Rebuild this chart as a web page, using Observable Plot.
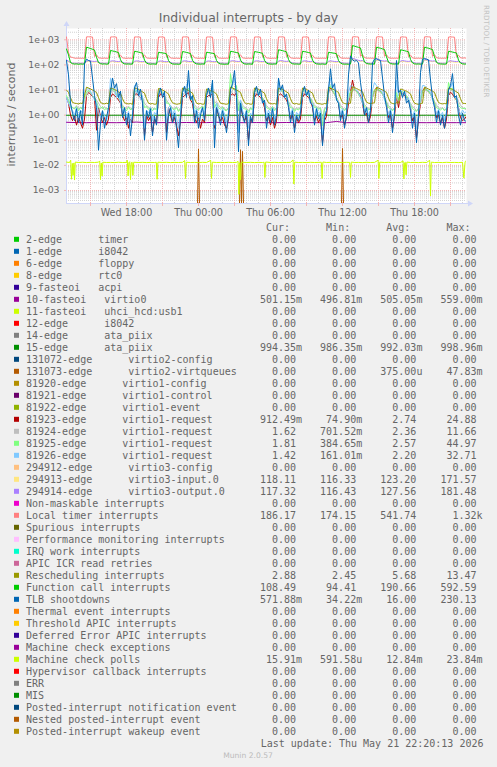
<!DOCTYPE html>
<html><head><meta charset="utf-8">
<script src="https://cdn.jsdelivr.net/npm/d3@7"></script>
<script src="https://cdn.jsdelivr.net/npm/@observablehq/plot@0.6"></script>
<style>
html,body{margin:0;padding:0;background:#F0F0F0;}
#wrap{position:relative;width:497px;height:767px;background:#F0F0F0;overflow:hidden;}
#wrap svg{position:absolute;left:0;top:0;}
</style></head><body><div id="wrap"></div>
<script>
// ---------- time span (Wed 13:00 -> Thu 22:20, 10-minute samples) ----------
const T0 = Date.UTC(2026, 4, 20, 13, 0);
const T1 = Date.UTC(2026, 4, 21, 22, 20);

// ---------- axis ticks ----------
const yTicks = [1e-3, 1e-2, 1e-1, 1, 10, 100, 1000];
const yTickLabels = ["1e-03", "1e-02", "1e-01", "1e+00", "1e+01", "1e+02", "1e+03"];
const xTickTimes = [Date.UTC(2026,4,20,18), Date.UTC(2026,4,21,0), Date.UTC(2026,4,21,6), Date.UTC(2026,4,21,12), Date.UTC(2026,4,21,18)];
const xTickLabels = ["Wed 18:00", "Thu 00:00", "Thu 06:00", "Thu 12:00", "Thu 18:00"];

// ---------- series values (10-min samples unless noted) ----------
const virtio0 = [ // 10-fasteoi virtio0 (50-min samples)
  0.520,0.505,0.500,0.510,0.503,0.500,0.508,0.530,0.502,0.500,
  0.506,0.501,0.510,0.500,0.504,0.520,0.500,0.503,0.500,0.507,
  0.500,0.502,0.510,0.500,0.505,0.500,0.503,0.559,0.500,0.504,
  0.500,0.502,0.506,0.500,0.510,0.503,0.500,0.505,0.500,0.502,0.501];
const ataPiix15 = [ // 15-edge ata_piix (100-min samples)
  0.990,0.993,0.991,0.995,0.990,0.992,0.989,0.994,0.991,0.986,
  0.993,0.990,0.992,0.996,0.990,0.991,0.999,0.990,0.992,0.991,0.994];
const virtqueuesMinutes = [0,655,660,665,865,870,875,880,885,1375,1380,1385,2000];
const virtqueuesValues  = [0,0,0.045,0,0,0.042,0,0.036,0,0,0.047,0,0];
const wakeupMinutes = [0, 2000];
const wakeupValues = [0, 0];

const req81923 = [
  5,3,1,0.6,0.9,0.4,0.8,0.5,0.3,0.7,
  6,8,7,5.5,5,0.25,2,0.9,0.5,0.8,0.4,0.7,
  5,7,6,5,4,3,1,0.6,0.9,0.3,0.7,0.5,
  6,7,6,5,4,0.15,1,0.6,0.9,0.2,0.7,0.5,
  5,7,6,5,0.2,2,1,0.5,0.8,0.4,0.15,0.6,
  5,6,7,8,4,3,0.8,0.5,0.9,0.3,0.7,0.5,
  5,6,6,7,0.3,2,1,0.6,0.8,0.4,0.3,0.7,
  6,7,6,8,0.2,2.5,1,0.6,0.9,0.1,0.7,0.5,
  5,7,6,5,4,2,0.6,0.9,0.4,0.8,0.3,0.6,
  6,7,6,5,4,2.5,0.7,1,0.3,0.8,0.5,0.7,
  5,7,6,5,4,2,0.6,0.9,0.5,0.8,0.075,0.6,0.9,
  8,12,9,7,5,3,0.8,1,0.4,0.8,3,8,
  25,10,9,8,6,3,1,1.2,0.5,0.9,5,10,
  12,10,9,7,5,3,0.8,1,0.3,0.9,6,2,
  6,7,6,5,4,2,0.6,0.9,0.12,0.7,3,9,
  12,10,9,7,5,3,0.8,1,0.5,0.8,0.3,0.7,
  6,8,7,5,4,2,0.8,0.6,0.7,0.91];
const req81924 = [
  5,3,2.2,2,1.8,2.4,1.7,2.1,1.9,4,
  6,9,8,6,5,4,3,2.2,1.8,2.2,1.7,2,
  7,10,8,6,5,3.5,2.5,2,1.9,2.3,1.6,2.1,
  6,9,8,6,5,3,2.4,2.1,1.8,2,1.7,1.9,
  6,9,7,6,4,3,2.4,2,1.8,2.2,1.5,2,
  6,8,9,10,5,4,2.6,2.1,1.8,2,2.3,1.9,
  6,9,8,9,3,3.5,2.5,2,2.2,1.8,1.6,2,
  7,10,11,8,2.5,4,2.5,2.1,1.9,1.5,2,1.8,
  6,9,8,6,5,3.5,2.4,2,1.8,2.2,1.7,2,
  8,10,8,6,5,3.5,2.5,2.1,1.6,2,1.8,2.1,
  6,9,8,6,5,3.5,2.4,2.2,1.9,2,0.7,1.9,2.1,
  7,11,9,7,5,3.5,2.5,2,1.7,2,4,7,
  9,10,9,7,5,4,2.6,2.2,1.8,2,5,8,
  10,9,8,7,5,3.5,2.4,2,1.6,2,6,3,
  6,8,7,6,4,3,2.2,1.9,1.5,1.9,3,7,
  9,10,8,7,5,3.5,2.5,2,1.8,2,1.6,1.9,
  7,9,10,6,5,3.5,2.5,2,1.8,1.62];
const req81925 = [
  6,4,2.5,2,1.8,2.2,1.5,2,1.7,5,
  8,10,8,6,5,3.5,2,1.8,2.2,1.6,1.9,1.7,
  9,12,9,7,5,3.5,2,1.9,1.5,2.1,1.7,1.8,
  8,10,8,6,5,2,2.2,1.7,2,1.5,1.9,1.6,
  8,11,8,6,3,3,2.2,1.8,1.6,2,1.4,1.8,
  9,10,9,12,6,3.5,2,1.8,1.6,2,2.2,1.7,
  8,10,8,12,2,3,2,1.7,2.1,1.6,1.5,1.9,
  45,12,10,15,1.5,3.5,2,1.8,1.7,1.2,1.9,1.6,
  8,10,8,6,5,3,2,1.8,1.6,2.2,1.5,1.8,
  12,10,9,7,5,3,2,1.9,1.4,1.8,1.6,2,
  8,10,8,6,4.5,3,2,2.1,1.7,1.9,0.38,1.7,1.9,
  9,15,10,7,5,3,2,1.8,1.5,1.9,5,9,
  10,11,9,7,5,3.5,2.2,2,1.6,1.8,6,10,
  11,10,9,7,5,3,2,1.8,1.5,1.9,8,4,
  8,9,7,6,4,2.5,1.8,1.6,1.4,1.8,4,9,
  11,10,9,7,5,3,2,1.8,1.6,1.9,1.5,1.8,
  20,10,12,6,4,2.5,2,1.8,1.9,1.81];
const req81926 = [
  5,3,2,1.5,1,2,0.8,1.6,1.2,8,
  10,12,9,6,4,3,1.5,0.8,1.5,1,0.6,1.3,
  30,10,14,5,7,3,1.2,2,0.8,1.4,0.5,1.1,
  15,8,11,4,6,0.3,1.6,1.2,2,0.6,1.3,1,
  10,12,6,8,0.5,2,2.5,1,1.6,0.8,0.3,1.2,
  12,8,15,25,5,6,1.2,1.8,0.8,1.4,2,1,
  10,12,6,20,0.4,3,1.5,0.8,1.8,1.1,0.5,1.3,
  12,15,30,6,0.2,4,1.5,0.9,1.6,0.3,1.2,1,
  10,12,6,9,3,4,0.8,1.6,1,2,0.7,1.2,
  25,9,13,5,6,2.5,1,1.8,0.5,1.3,1,1.5,
  10,12,6,9,3,3,0.8,2,1,1.5,0.16,1.1,1.6,
  12,30,10,12,4,3.5,1,1.8,0.7,1.3,8,15,
  14,12,10,8,5,3,1.5,2,1,1.6,10,20,
  15,12,10,8,4,2.5,1,1.8,0.6,1.4,25,6,
  10,6,9,4,5,2,0.8,1.5,0.3,1.2,5,15,
  15,12,10,8,4,2.5,1,1.7,0.9,1.3,0.6,1.4,
  10,12,20,5,5,2,1,1.6,1.2,1.42];
const virtio3Input = [
  150,132,122,118,117,116,117,116,117,116,
  132,138,134,130,129,133,122,118,116,116,117,116,
  130,136,133,129,128,132,122,118,116,117,116,116,
  130,135,132,128,127,131,121,118,117,116,116,117,
  129,134,131,127,126,130,121,117,116,116,117,116,
  130,136,133,129,128,132,122,118,116,117,116,116,
  129,134,131,127,126,130,121,117,117,116,116,117,
  131,137,134,130,129,133,122,118,116,116,117,116,
  130,136,133,129,128,132,122,118,116,117,116,116,
  133,139,135,131,130,134,123,118,117,116,116,117,
  130,136,133,129,128,132,122,118,116,116,117,116,116,
  130,135,132,128,127,131,121,118,117,116,116,117,
  171.6,162,152,144,139,142,127,120,117,116,117,116,
  155,150,144,138,135,139,125,119,117,116,116,117,
  133,139,135,131,130,134,123,118,116,117,116,116,
  155,150,144,138,135,139,125,119,117,116,117,116,
  130,136,133,129,128,132,122,118,117,118.1];
const virtio3Output = [
  160,140,125,119,118,117,118,117,118,117,
  142,148,144,139,137,141,128,120,117,117,118,117,
  140,146,142,138,136,140,128,120,117,118,117,117,
  139,145,141,137,135,139,127,120,118,117,117,118,
  138,144,140,136,134,138,126,119,117,117,118,117,
  140,146,142,138,136,140,128,120,117,118,117,117,
  138,144,140,136,134,138,126,119,118,117,117,118,
  141,147,143,139,137,141,128,120,117,117,118,117,
  140,146,142,138,136,140,128,120,117,118,117,117,
  143,149,145,140,138,142,129,121,118,117,117,118,
  140,146,142,138,136,140,128,120,117,117,118,117,117,
  139,145,141,137,135,139,127,120,118,117,117,118,
  181,172,162,152,146,150,133,122,118,117,118,117,
  165,160,152,146,142,146,131,121,118,117,117,118,
  143,149,145,140,138,142,129,121,117,118,117,117,
  165,160,152,146,142,146,131,121,118,117,118,117,
  140,146,142,138,136,140,128,120,118,117.3];
const localTimer = [
  1300,300,205,198,186,184,188,183,185,184,
  1310,1320,1300,1290,215,255,192,186,184,187,183,185,
  1290,1310,1300,1280,210,245,190,185,183,186,184,182,
  1300,1300,1290,1270,212,250,191,184,186,183,185,184,
  1280,1300,1290,1260,208,240,189,185,184,186,182,184,
  1300,1310,1300,1280,214,248,192,186,183,185,184,183,
  1290,1300,1290,1270,210,242,190,184,185,183,186,184,
  1300,1310,1300,1280,216,252,191,185,184,186,183,185,
  1290,1300,1290,1270,210,246,190,186,183,184,185,183,
  1300,1310,1300,1280,212,250,192,185,184,186,184,182,
  1290,1300,1290,1270,209,244,190,184,185,183,186,184,183,
  1300,1310,1300,1280,215,248,191,186,184,185,183,184,
  1310,1320,1310,1290,222,258,195,187,185,186,184,185,
  1300,1320,1310,1290,220,255,194,186,184,185,186,183,
  1290,1300,1290,1270,212,246,190,185,184,186,183,184,
  1310,1320,1310,1290,220,256,194,187,185,184,186,185,
  1290,1300,1290,1270,212,245,192,188,190,186];
const rescheduling = [
  10,8,5,3.2,3,2.9,2.8,3,2.9,6,
  13,12,11,10,9,8,5,3.2,2.9,2.8,3,2.8,
  12,11.5,10.5,9.5,8.5,7.5,4.5,3.1,2.9,2.8,2.9,2.7,
  12,11.5,10.5,9.5,8.5,7.5,4.5,3,2.8,2.9,2.7,2.8,
  11.5,11,10,9,8,7,4.3,3.1,2.9,2.7,2.8,2.9,
  12,11.5,10.5,9.5,8.5,7.5,4.5,3,2.8,2.9,2.7,2.8,
  11,10.5,9.5,9,8,7,4.2,3,2.9,2.8,2.7,2.9,
  13,12,11,10,9,8,4.8,3.2,2.8,2.9,2.7,2.8,
  12,11.5,10.5,9.5,8.5,7.5,4.5,3.1,2.9,2.8,2.9,2.7,
  12,11.5,10.5,9.5,8.5,7.5,4.5,3,2.8,2.9,2.7,2.8,
  12,11.5,10.5,9.5,8.5,7.5,4.5,3,2.9,2.8,2.7,2.9,2.8,
  13,12,11,10,9,8,4.8,3.2,2.9,2.8,2.9,3,
  13.5,12.5,11.5,10.5,9.5,8.5,5,3.3,3,2.9,3,3.1,
  13,12,11,10,9,8,4.8,3.2,2.9,2.8,3.2,3,
  11,10.5,9.5,9,8,7,4.2,3,2.8,2.7,2.9,3,
  13,12,11,10,9,8,4.8,3.2,2.9,2.8,2.9,2.8,
  12,11.5,10.5,9.5,8.5,7.5,4.5,3,2.9,2.88];
const functionCall = [
  430,250,125,112,108,110,106,109,107,110,
  510,480,450,420,390,200,125,112,108,110,107,109,
  375,360,345,330,310,160,120,110,108,109,107,108,
  350,340,325,310,295,155,118,110,107,109,108,106,
  320,310,300,290,275,150,118,109,107,108,106,109,
  340,330,315,300,285,152,119,110,108,107,109,107,
  320,312,300,290,278,150,117,109,108,106,108,107,
  350,340,325,312,298,155,120,110,107,109,108,106,
  340,330,318,305,290,152,118,110,108,107,109,108,
  400,385,368,350,330,165,122,111,108,109,107,108,
  350,340,326,312,298,155,119,110,108,107,109,106,108,
  320,310,300,290,278,150,118,109,107,108,106,108,
  590,560,530,500,470,230,130,114,110,108,109,107,
  510,485,460,435,410,210,128,113,109,108,110,107,
  400,385,368,350,332,165,121,110,108,109,107,108,
  510,485,460,435,410,210,127,112,109,108,107,109,
  350,340,326,312,298,155,119,110,108,108.5];
const tlbShootdowns = [
  150,40,3,1.2,0.6,1.8,0.5,1.5,0.4,110,
  170,150,140,30,6,2,0.04,0.5,1.5,0.3,0.8,2,
  8,30,12,18,5,9,0.8,2,0.4,1.2,0.15,0.9,
  12,20,6,11,3,0.1,1.5,0.8,1.8,0.15,0.9,0.4,
  6,12,5,9,0.1,1,2,0.5,1.2,0.3,0.05,0.8,
  8,14,5,60,4,6,0.5,1.5,0.3,1,2,0.6,
  6,12,5,25,0.05,2,1,0.4,1.5,0.7,0.2,1,
  10,18,60,5,0.035,3,1,0.5,1.5,0.06,0.9,0.5,
  8,14,6,11,3,4,0.3,1.2,0.5,1.8,0.4,1,
  30,10,16,5,7,2,0.5,1.5,0.2,1,0.6,1.2,
  8,14,6,10,3,2.5,0.4,1.8,0.7,1.2,0.06,0.8,1.5,
  10,70,12,18,4,3,0.6,1.5,0.3,1,40,230,
  160,140,150,120,20,5,1,2,0.5,1.5,120,170,
  180,160,150,30,6,2,0.5,1.5,0.2,1.2,150,8,
  10,5,9,3,4,1.5,0.3,1.2,0.08,0.9,50,170,
  180,170,160,25,5,2,0.5,1.5,0.4,1,0.3,1.2,
  10,15,45,5,6,1,0.4,1.2,0.6,0.57];
// Machine check polls: sample times in minutes after start, and values
const mcPollMinutes = [
  0,15,21,25,29,33,37,40,44,60,80,100,120,140,160,166,170,174,178,182,
  200,220,240,260,280,300,304,308,312,316,320,324,328,332,336,360,380,400,420,440,
  449,453,457,480,500,520,540,560,580,591,595,599,620,640,660,680,700,721,725,729,
  750,770,790,810,830,850,858,862,866,870,874,900,920,940,960,980,988,992,996,1020,
  1040,1060,1080,1100,1120,1133,1137,1141,1160,1180,1200,1220,1240,1260,1274,1278,1282,1300,1320,1340,
  1360,1380,1400,1416,1420,1424,1440,1460,1480,1500,1520,1540,1558,1562,1566,1590,1610,1630,1650,1670,
  1683,1687,1691,1694,1698,1702,1720,1740,1760,1780,1800,1816,1820,1824,1840,1860,1880,1900,1920,1940,
  1960,1980,1987,1993,2000];
const mcPollValues = [
  0.0135,0.0130,0.0160,0.0028,0.0120,0.0040,0.0125,0.0026,0.0135,0.0130,0.0133,0.0129,0.0132,0.0130,0.0134,0.0150,0.0027,0.0125,0.0038,0.0133,
  0.0130,0.0131,0.0129,0.0133,0.0130,0.0131,0.0160,0.0038,0.0130,0.0140,0.0027,0.0128,0.0135,0.0040,0.0133,0.0130,0.0132,0.0129,0.0131,0.0130,
  0.0133,0.0028,0.0134,0.0130,0.0132,0.0129,0.0131,0.0130,0.0132,0.0155,0.0030,0.0133,0.0130,0.0131,0.0129,0.0132,0.0130,0.0158,0.0030,0.0134,
  0.0130,0.0131,0.0129,0.0132,0.0130,0.0131,0.0145,0.0007,0.0128,0.0026,0.0134,0.0130,0.0132,0.0129,0.0131,0.0130,0.0133,0.0033,0.0136,0.0130,
  0.0132,0.0129,0.0131,0.0130,0.0132,0.0165,0.0018,0.0134,0.0130,0.0131,0.0129,0.0132,0.0130,0.0131,0.0133,0.0030,0.0136,0.0130,0.0132,0.0129,
  0.0131,0.0130,0.0132,0.0131,0.0033,0.0135,0.0130,0.0131,0.0129,0.0132,0.0130,0.0131,0.0160,0.0030,0.0134,0.0130,0.0132,0.0129,0.0131,0.0130,
  0.0150,0.0029,0.0128,0.0133,0.0042,0.0135,0.0130,0.0131,0.0129,0.0132,0.0130,0.0158,0.0006,0.0134,0.0130,0.0131,0.0129,0.0132,0.0130,0.0131,
  0.0129,0.0132,0.0031,0.0140,0.0159];

// ---------- legend ----------
const legendLabels = [
  "2-edge      timer","1-edge      i8042","6-edge      floppy","8-edge      rtc0","9-fasteoi   acpi",
  "10-fasteoi   virtio0","11-fasteoi   uhci_hcd:usb1","12-edge      i8042","14-edge      ata_piix","15-edge      ata_piix",
  "131072-edge      virtio2-config","131073-edge      virtio2-virtqueues","81920-edge      virtio1-config",
  "81921-edge      virtio1-control","81922-edge      virtio1-event","81923-edge      virtio1-request",
  "81924-edge      virtio1-request","81925-edge      virtio1-request","81926-edge      virtio1-request",
  "294912-edge      virtio3-config","294913-edge      virtio3-input.0","294914-edge      virtio3-output.0",
  "Non-maskable interrupts","Local timer interrupts","Spurious interrupts","Performance monitoring interrupts",
  "IRQ work interrupts","APIC ICR read retries","Rescheduling interrupts","Function call interrupts",
  "TLB shootdowns","Thermal event interrupts","Threshold APIC interrupts","Deferred Error APIC interrupts",
  "Machine check exceptions","Machine check polls","Hypervisor callback interrupts","ERR","MIS",
  "Posted-interrupt notification event","Nested posted-interrupt event","Posted-interrupt wakeup event"];
const legendColors = [
  "#00CC00","#0066B3","#FF8000","#FFCC00","#330099","#990099","#CCFF00","#FF0000","#808080","#008F00",
  "#00487D","#B35A00","#B38F00","#6B006B","#8FB300","#B30000","#BEBEBE","#80FF80","#80C9FF","#FFC080",
  "#FFE680","#AA80FF","#EE00CC","#FF8080","#666600","#FFBFFF","#00FFCC","#CC6699","#999900","#00CC00",
  "#0066B3","#FF8000","#FFCC00","#330099","#990099","#CCFF00","#FF0000","#808080","#008F00","#00487D",
  "#B35A00","#B38F00"];
const Z = "0.00";
const curValues = [Z,Z,Z,Z,Z,"501.15m",Z,Z,Z,"994.35m",Z,Z,Z,Z,Z,"912.49m","1.62","1.81","1.42",Z,"118.11","117.32",Z,"186.17",Z,Z,Z,Z,"2.88","108.49","571.88m",Z,Z,Z,Z,"15.91m",Z,Z,Z,Z,Z,Z];
const minValues = [Z,Z,Z,Z,Z,"496.81m",Z,Z,Z,"986.35m",Z,Z,Z,Z,Z,"74.90m","701.52m","384.65m","161.01m",Z,"116.33","116.43",Z,"174.15",Z,Z,Z,Z,"2.45","94.41","34.22m",Z,Z,Z,Z,"591.58u",Z,Z,Z,Z,Z,Z];
const avgValues = [Z,Z,Z,Z,Z,"505.05m",Z,Z,Z,"992.03m",Z,"375.00u",Z,Z,Z,"2.74","2.36","2.57","2.20",Z,"123.20","127.56",Z,"541.74",Z,Z,Z,Z,"5.68","190.66","16.00",Z,Z,Z,Z,"12.84m",Z,Z,Z,Z,Z,Z];
const maxValues = [Z,Z,Z,Z,Z,"559.00m",Z,Z,Z,"998.96m",Z,"47.83m",Z,Z,Z,"24.88","11.66","44.97","32.71",Z,"171.57","181.48",Z,"1.32k",Z,Z,Z,Z,"13.47","592.59","230.13",Z,Z,Z,Z,"23.84m",Z,Z,Z,Z,Z,Z];

// ---------- build ----------
const Y_DOMAIN = [3.03e-4, 2820];
const even = vals => vals.map((v, i) => ({t: new Date(T0 + i * (T1 - T0) / (vals.length - 1)), v}));
const byMinutes = (mins, vals) => mins.map((m, i) => ({t: new Date(T0 + m * 60000), v: vals[i]}));
const yAcc = d => d.v > 0 ? d.v : Y_DOMAIN[0];

const drawn = [
  [even(virtio0), "#990099"],
  [even(ataPiix15), "#008F00"],
  [byMinutes(virtqueuesMinutes, virtqueuesValues), "#B35A00"],
  [even(req81923), "#B30000"],
  [even(req81924), "#BEBEBE"],
  [even(req81925), "#80FF80"],
  [even(req81926), "#80C9FF"],
  [even(virtio3Input), "#FFE680"],
  [even(virtio3Output), "#AA80FF"],
  [even(localTimer), "#FF8080"],
  [even(rescheduling), "#999900"],
  [even(functionCall), "#00CC00"],
  [even(tlbShootdowns), "#0066B3"],
  [byMinutes(mcPollMinutes, mcPollValues), "#CCFF00"],
  [byMinutes(wakeupMinutes, wakeupValues), "#B38F00"]
];

const yMinor = [];
for (let d = -4; d <= 3; d++) for (let k = 2; k <= 9; k++) {
  const v = k * Math.pow(10, d);
  if (v > Y_DOMAIN[0] && v < Y_DOMAIN[1]) yMinor.push(v);
}
const hours = d3.utcHour.range(new Date(T0 + 1), new Date(T1));
const xMajor = hours.filter(h => h.getUTCHours() % 3 === 0);
const xMinor = hours.filter(h => h.getUTCHours() % 3 !== 0);
const yLab = new Map(yTicks.map((v, i) => [v, yTickLabels[i]]));
const xLab = new Map(xTickTimes.map((v, i) => [v, xTickLabels[i]]));

const GRID = "#D2D2D2", MGRID = "#F2B4B4", FONT = "#666666", AXIS = "#CFD6F8";

const plot = Plot.plot({
  width: 497, height: 220,
  marginLeft: 66, marginRight: 31, marginTop: 28, marginBottom: 17,
  x: {type: "utc", domain: [new Date(T0), new Date(T1)], label: null},
  y: {type: "log", domain: Y_DOMAIN, label: null},
  style: {background: "transparent", fontFamily: "'DejaVu Sans', sans-serif", fontSize: "9.5px", color: FONT, overflow: "visible"},
  marks: [
    Plot.frame({fill: "#FFFFFF", stroke: "none"}),
    Plot.ruleY(yMinor, {stroke: GRID, strokeDasharray: "1,1"}),
    Plot.ruleX(xMinor, {stroke: GRID, strokeDasharray: "1,1"}),
    Plot.ruleY(yTicks, {stroke: MGRID, strokeDasharray: "1,1"}),
    Plot.ruleX(xMajor, {stroke: MGRID, strokeDasharray: "1,1"}),
    Plot.ruleX([new Date(T0)], {stroke: AXIS}),
    Plot.ruleY([Y_DOMAIN[0]], {stroke: AXIS}),
    ...drawn.map(([data, color]) => Plot.line(data, {x: "t", y: yAcc, stroke: color, strokeWidth: 1, clip: true})),
    Plot.axisY(yTicks, {tickSize: 2, stroke: MGRID, tickPadding: 5, tickFormat: d => yLab.get(d), fill: FONT, fontSize: 9.3, label: null}),
    Plot.axisX(xTickTimes.map(t => new Date(t)), {tickSize: 0, tickPadding: 6, tickFormat: d => xLab.get(+d), fill: FONT, fontSize: 9.6, label: null}),
    Plot.axisX(xMajor, {tickSize: 3, stroke: MGRID, fill: "none", tickFormat: () => "", label: null})
  ]
});

const wrap = document.getElementById("wrap");
wrap.appendChild(plot);

// ---------- overlay: title, labels, arrows, legend ----------
const [px0, px1] = plot.scale("x").range;
const [py0, py1] = plot.scale("y").range; // py0 = bottom
const svg = d3.select(wrap).append("svg").attr("width", 497).attr("height", 767)
  .style("font-family", "'DejaVu Sans', sans-serif");

svg.append("line").attr("x1", px0 + 0.5).attr("x2", px0 + 0.5).attr("y1", py1).attr("y2", py1 - 5).attr("stroke", AXIS);
svg.append("path").attr("d", `M${px0 + 0.5},${py1 - 7} L${px0 - 2.5},${py1 - 2} L${px0 + 3.5},${py1 - 2} Z`).attr("fill", AXIS);
svg.append("line").attr("x1", px1).attr("x2", px1 + 3).attr("y1", py0 + 0.5).attr("y2", py0 + 0.5).attr("stroke", AXIS);
svg.append("path").attr("d", `M${px1 + 7},${py0 + 0.5} L${px1 + 2},${py0 - 2.5} L${px1 + 2},${py0 + 3.5} Z`).attr("fill", AXIS);

svg.append("text").attr("x", 248.5).attr("y", 22).attr("text-anchor", "middle")
  .attr("font-size", 12.4).attr("fill", FONT).text("Individual interrupts - by day");
svg.append("text").attr("transform", "translate(11,114.5) rotate(-90)").attr("text-anchor", "middle")
  .attr("dominant-baseline", "central").attr("font-size", 11).attr("fill", FONT).text("interrupts / second");
svg.append("text").attr("transform", "translate(486.5,5) rotate(90)").attr("text-anchor", "start")
  .attr("dominant-baseline", "central").attr("font-size", 7.2).attr("fill", "#C4C4C4").text("RRDTOOL / TOBI OETIKER");

const mono = "'DejaVu Sans Mono', monospace";
const colEnd = [296.0, 356.2, 416.4, 476.6];
const headers = ["Cur:", "Min:", "Avg:", "Max:"];
headers.forEach((h, c) => {
  svg.append("text").attr("x", colEnd[c] - 6).attr("y", 227.3 + 3.6).attr("text-anchor", "end")
    .attr("font-family", mono).attr("font-size", 10).attr("fill", FONT).text(h);
});
const cols = [curValues, minValues, avgValues, maxValues];
legendLabels.forEach((lab, j) => {
  const yc = 239.3 + 12 * j;
  svg.append("rect").attr("x", 14).attr("y", yc - 2.5).attr("width", 5).attr("height", 5).attr("fill", legendColors[j]);
  svg.append("text").attr("x", 26).attr("y", yc + 3.6).attr("font-family", mono).attr("font-size", 10)
    .attr("fill", FONT).style("white-space", "pre").text(lab);
  cols.forEach((arr, c) => {
    const s = arr[j];
    const m = s.match(/^([0-9.]+)([a-zA-Z]?)$/);
    svg.append("text").attr("x", colEnd[c]).attr("y", yc + 3.6).attr("text-anchor", "end")
      .attr("font-family", mono).attr("font-size", 10).attr("fill", FONT).text(m[1]);
    if (m[2]) svg.append("text").attr("x", colEnd[c]).attr("y", yc + 3.6)
      .attr("font-family", mono).attr("font-size", 10).attr("fill", FONT).text(m[2]);
  });
});
svg.append("text").attr("x", 483.5).attr("y", 743.7 + 3.6).attr("text-anchor", "end")
  .attr("font-family", mono).attr("font-size", 10).attr("fill", FONT).style("white-space", "pre")
  .text("Last update: Thu May 21 22:20:13 2026");
svg.append("text").attr("x", 248).attr("y", 758.2).attr("text-anchor", "middle")
  .attr("font-size", 7.6).attr("fill", "#BBBBBB").text("Munin 2.0.57");
</script>
</body></html>
